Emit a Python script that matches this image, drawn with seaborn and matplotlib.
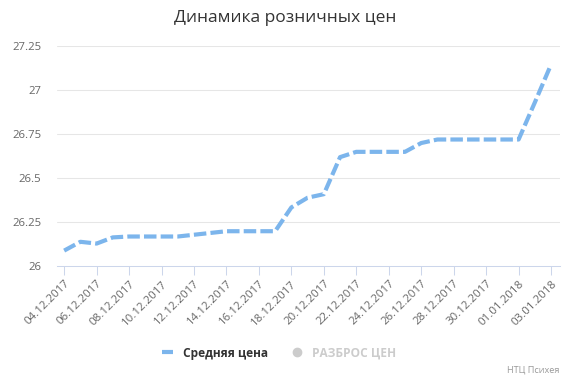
import matplotlib
matplotlib.use("Agg")
import matplotlib.pyplot as plt
from matplotlib.lines import Line2D
import seaborn as sns
import pandas as pd

# ---- data ----
dates = ["04.12.2017", "05.12.2017", "06.12.2017", "07.12.2017", "08.12.2017",
         "09.12.2017", "10.12.2017", "11.12.2017", "12.12.2017", "13.12.2017",
         "14.12.2017", "15.12.2017", "16.12.2017", "17.12.2017", "18.12.2017",
         "19.12.2017", "20.12.2017", "21.12.2017", "22.12.2017", "23.12.2017",
         "24.12.2017", "25.12.2017", "26.12.2017", "27.12.2017", "28.12.2017",
         "29.12.2017", "30.12.2017", "31.12.2017", "01.01.2018", "02.01.2018",
         "03.01.2018"]
avg_price = [26.09, 26.14, 26.13, 26.165, 26.17,
             26.17, 26.17, 26.17, 26.18, 26.19,
             26.20, 26.20, 26.20, 26.20, 26.335,
             26.39, 26.41, 26.62, 26.65, 26.65,
             26.65, 26.65, 26.70, 26.72, 26.72,
             26.72, 26.72, 26.72, 26.72, 26.93,
             27.145]
y_ticks = [26, 26.25, 26.5, 26.75, 27, 27.25]
y_tick_labels = ["26", "26.25", "26.5", "26.75", "27", "27.25"]
title = "Динамика розничных цен"
series_names = ["Средняя цена", "РАЗБРОС ЦЕН"]
credit = "НТЦ Психея"

df = pd.DataFrame({"date": pd.to_datetime(dates, format="%d.%m.%Y"),
                   "price": avg_price})

sns.set_theme(style="white")
plt.rcParams["font.family"] = ["Open Sans", "DejaVu Sans"]

fig = plt.figure(figsize=(5.7, 3.8), dpi=100)
ax = fig.add_axes([0.0995, 0.2987, 0.9816 - 0.0995, 0.8789 - 0.2987])

sns.lineplot(data=df, x="date", y="price", ax=ax, color="#7cb5ec",
             linewidth=3, linestyle=(0, (3, 1)), legend=False)
line = ax.get_lines()[0]
line.set_solid_joinstyle("round")
line.set_dash_joinstyle("round")

# axes limits
d0 = df["date"].iloc[0]
d1 = df["date"].iloc[-1]
ax.set_xlim(d0 - pd.Timedelta(hours=11), d1 + pd.Timedelta(hours=12.5))
ax.set_ylim(26, 27.25)

# grid
ax.set_yticks(y_ticks)
ax.set_yticklabels(y_tick_labels)
for yv in y_ticks[1:]:
    ax.axhline(yv, color="#e6e6e6", linewidth=0.75, zorder=0)

# x ticks
xt = df["date"].iloc[::2]
ax.set_xticks(xt)
ax.set_xticklabels([d for d in dates[::2]], rotation=45, ha="right",
                   rotation_mode="anchor")
ax.set_xlabel("")
ax.set_ylabel("")

for s in ["top", "right", "left"]:
    ax.spines[s].set_visible(False)
ax.spines["bottom"].set_color("#ccd6eb")
ax.spines["bottom"].set_linewidth(0.75)

ax.tick_params(axis="x", which="major", bottom=True, length=6.5, width=0.75,
               color="#ccd6eb", labelsize=8.2, labelcolor="#666666", pad=2)
ax.tick_params(axis="y", which="major", left=False, length=0, labelsize=8.2,
               labelcolor="#666666", pad=11)

# title
fig.text(0.5, 1 - 18 / 380, title, ha="center", va="center",
         fontsize=12.5, color="#333333")

# legend
h1 = Line2D([], [], color="#7cb5ec", linewidth=3, solid_capstyle="butt")
h2 = Line2D([], [], color="#cccccc", marker="o", markersize=6, linestyle="none")
leg = fig.legend([h1, h2], series_names, loc="center",
                 bbox_to_anchor=(0.49, 1 - 353 / 380), ncol=2, frameon=False,
                 handlelength=0.85, handletextpad=0.85, columnspacing=2.0,
                 prop={"size": 8.6, "weight": "bold"})
texts = leg.get_texts()
texts[0].set_color("#333333")
texts[1].set_color("#cccccc")

# credit
fig.text(0.981, 1 - 370 / 380, credit, ha="right", va="center",
         fontsize=6.6, color="#999999")

fig.savefig("out.png", dpi=100, facecolor="white")
